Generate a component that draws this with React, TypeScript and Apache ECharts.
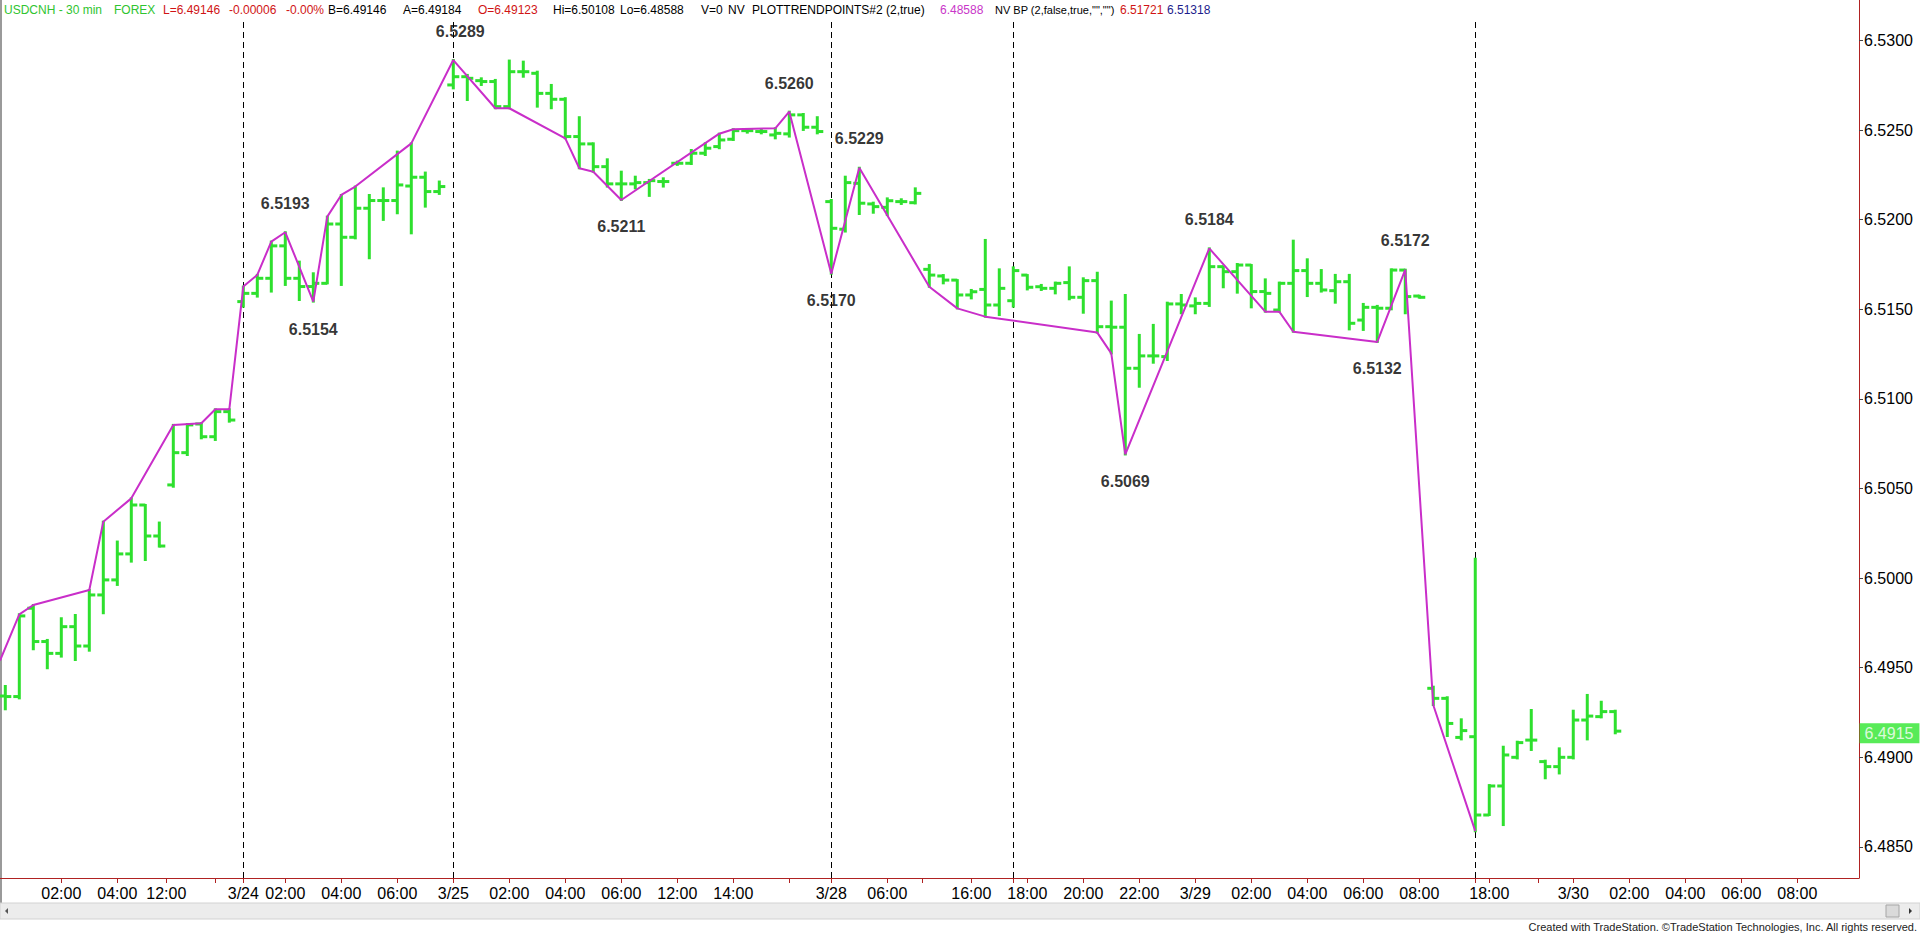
import React, { useEffect, useRef } from 'react';
import * as echarts from 'echarts';

// ---- OHLC bars (30 min), index = bar slot on the chart ----
const openP = [
  6.49342, 6.49339, 6.49832, 6.49646, 6.4958, 6.49729, 6.49621, 6.49906, 6.4999, 6.50135,
  6.50408, 6.50235, 6.5052, 6.507, 6.5086, 6.50789, 6.50929, 6.51543, 6.51589, 6.51673,
  6.51854, 6.51673, 6.51627, 6.51645, 6.51976, 6.51902, 6.52064, 6.52107, 6.52107, 6.52188,
  6.52237, 6.52157, 6.52752, 6.52798, 6.52776, 6.52771, 6.52631, 6.52826, 6.52817, 6.52705,
  6.52672, 6.52464, 6.52423, 6.52296, 6.522, 6.522, 6.52207, 6.52213, 6.52315, 6.52315,
  6.52371, 6.52408, 6.52449, 6.52497, 6.52492, 6.52473, 6.52479, 6.52585, 6.52516, 6.52101,
  6.51947, 6.52203, 6.52088, 6.52069, 6.52101, 6.52095, 6.51723, 6.51686, 6.51663, 6.5158,
  6.51611, 6.51524, 6.51548, 6.51691, 6.51626, 6.51617, 6.51649, 6.51567, 6.5166, 6.51403,
  6.514, 6.51171, 6.5124, 6.51236, 6.5153, 6.51519, 6.51533, 6.51738, 6.5171, 6.51747,
  6.51599, 6.51496, 6.51645, 6.51716, 6.51645, 6.51604, 6.51654, 6.5144, 6.51511, 6.51506,
  6.51719, 6.51574, 6.49385, 6.49329, 6.49111, 6.49115, 6.48678, 6.4884, 6.49, 6.49096,
  6.48976, 6.48948, 6.49, 6.49208, 6.49227, 6.49255,
];
const highP = [
  6.49398, 6.49798, 6.4985, 6.49655, 6.49776, 6.49794, 6.49934, 6.50315, 6.50204, 6.50445,
  6.50408, 6.5031, 6.50855, 6.5086, 6.50864, 6.50942, 6.50942, 6.51627, 6.51692, 6.51878,
  6.5193, 6.51766, 6.51701, 6.52017, 6.52138, 6.52185, 6.52138, 6.52175, 6.5238, 6.52426,
  6.52263, 6.52213, 6.52891, 6.52808, 6.52789, 6.5278, 6.52888, 6.52882, 6.52826, 6.52752,
  6.52678, 6.52572, 6.52426, 6.52337, 6.52268, 6.5224, 6.52222, 6.52231, 6.52324, 6.52389,
  6.52426, 6.5248, 6.52505, 6.52505, 6.52501, 6.5251, 6.52603, 6.5259, 6.52572, 6.5211,
  6.5224, 6.5229, 6.52095, 6.52119, 6.52114, 6.52175, 6.51747, 6.51691, 6.51663, 6.51608,
  6.51887, 6.51723, 6.51734, 6.51691, 6.51636, 6.51649, 6.51734, 6.51673, 6.51704, 6.51543,
  6.5158, 6.51357, 6.51413, 6.51537, 6.5158, 6.51561, 6.5184, 6.51738, 6.51753, 6.51747,
  6.51667, 6.51649, 6.51883, 6.51779, 6.51719, 6.51692, 6.51692, 6.5153, 6.51519, 6.51723,
  6.51721, 6.51576, 6.49394, 6.49335, 6.49212, 6.50108, 6.48845, 6.49059, 6.49087, 6.49264,
  6.48981, 6.4905, 6.4926, 6.49348, 6.4931, 6.4926,
];
const lowP = [
  6.49268, 6.49329, 6.49603, 6.49497, 6.49562, 6.49543, 6.49595, 6.49804, 6.49962, 6.50092,
  6.50101, 6.50176, 6.5051, 6.50687, 6.5078, 6.50771, 6.50873, 6.51515, 6.51571, 6.51599,
  6.51636, 6.51552, 6.51543, 6.51645, 6.51636, 6.51896, 6.51785, 6.51999, 6.52036, 6.51924,
  6.52073, 6.52144, 6.52733, 6.52668, 6.52752, 6.52622, 6.52622, 6.52798, 6.52631, 6.52622,
  6.52454, 6.52287, 6.52268, 6.52185, 6.5211, 6.52175, 6.52133, 6.52185, 6.52306, 6.52311,
  6.52361, 6.52399, 6.52445, 6.52486, 6.52482, 6.52454, 6.52464, 6.52501, 6.52482, 6.51699,
  6.51934, 6.52032, 6.52039, 6.52026, 6.52088, 6.52091, 6.51626, 6.51645, 6.51505, 6.51561,
  6.51459, 6.51468, 6.51515, 6.51611, 6.51608, 6.51589, 6.51556, 6.51481, 6.5137, 6.51254,
  6.5069, 6.51068, 6.51202, 6.51217, 6.51478, 6.51478, 6.51519, 6.51623, 6.51593, 6.51511,
  6.51487, 6.51487, 6.51375, 6.51574, 6.51599, 6.51537, 6.51388, 6.51385, 6.51318, 6.515,
  6.51478, 6.51565, 6.49292, 6.49119, 6.491, 6.48588, 6.48678, 6.48622, 6.48994, 6.49041,
  6.48883, 6.4891, 6.48994, 6.491, 6.49223, 6.49134,
];
const closeP = [
  6.49339, 6.49789, 6.49646, 6.4958, 6.49729, 6.49621, 6.49906, 6.4999, 6.50135, 6.50408,
  6.50235, 6.50179, 6.507, 6.50855, 6.50789, 6.50929, 6.50882, 6.51589, 6.51673, 6.51854,
  6.51673, 6.51627, 6.51645, 6.51976, 6.51902, 6.52064, 6.52107, 6.52107, 6.52194, 6.52237,
  6.52157, 6.52185, 6.52798, 6.52789, 6.52771, 6.52631, 6.52826, 6.52826, 6.52705, 6.52672,
  6.52464, 6.52423, 6.52296, 6.522, 6.522, 6.52207, 6.52218, 6.52213, 6.52315, 6.52371,
  6.52399, 6.52445, 6.52497, 6.52497, 6.52492, 6.52482, 6.52585, 6.52516, 6.52492, 6.51952,
  6.52207, 6.52092, 6.52073, 6.52106, 6.52101, 6.52147, 6.51691, 6.51663, 6.5158, 6.51598,
  6.51524, 6.51617, 6.51716, 6.51623, 6.51617, 6.51645, 6.51567, 6.5166, 6.51403, 6.514,
  6.51171, 6.5124, 6.5124, 6.5153, 6.51524, 6.51533, 6.51738, 6.5171, 6.51747, 6.51599,
  6.51589, 6.51645, 6.51716, 6.51645, 6.51608, 6.51654, 6.51422, 6.51511, 6.51506, 6.51719,
  6.51571, 6.51567, 6.49329, 6.49189, 6.49149, 6.48678, 6.4884, 6.49013, 6.49082, 6.49096,
  6.48948, 6.49, 6.49208, 6.4923, 6.49255, 6.49146,
];

// ---- PlotTrendPoints zig-zag line ----
const trendIdx = [
  -0.38, 1, 2, 6, 7, 9, 12, 14, 15, 16, 17, 18, 19, 20, 22, 23, 24, 25, 29, 32, 35, 36, 40, 41, 42,
  44, 51, 52, 55, 56, 59, 61, 66, 68, 70, 78, 79, 80, 86, 90, 91, 92, 98, 100, 102, 105,
];
const trendPrice = [
  6.4954, 6.49798, 6.4985, 6.49934, 6.50315, 6.50445, 6.50855, 6.50864, 6.50942, 6.50942,
  6.51627, 6.51692, 6.51878, 6.5193, 6.51543, 6.52017, 6.52138, 6.52185, 6.52426, 6.52891,
  6.52622, 6.52622, 6.52454, 6.52287, 6.52268, 6.5211, 6.5248, 6.52505, 6.5251, 6.52603,
  6.51699, 6.5229, 6.51626, 6.51505, 6.51459, 6.5137, 6.51254, 6.5069, 6.5184, 6.51487,
  6.51487, 6.51375, 6.51318, 6.51721, 6.49292, 6.48588,
];

// ---- labelled swing points ----
const pivotIdx = [20, 22, 32, 44, 56, 59, 61, 80, 86, 98, 100];
const pivotPrice = [6.5193, 6.5154, 6.5289, 6.5211, 6.526, 6.517, 6.5229, 6.5069, 6.5184, 6.5132, 6.5172];
const pivotSide = ['H', 'L', 'H', 'L', 'H', 'L', 'H', 'L', 'H', 'L', 'H'];

// ---- axes ----
const xTickPos = [
  4, 8, 11.5, 15, 17, 20, 24, 28, 32, 36, 40, 44, 48, 52, 56, 59, 63, 65.5, 69, 72, 73, 77, 81, 85,
  89, 93, 97, 101, 105, 106, 109.5, 112, 116, 120, 124, 128,
];
const xTickText = [
  '02:00', '04:00', '12:00', '', '3/24', '02:00', '04:00', '06:00', '3/25', '02:00', '04:00',
  '06:00', '12:00', '14:00', '', '3/28', '06:00', '', '16:00', '', '18:00', '20:00', '22:00',
  '3/29', '02:00', '04:00', '06:00', '08:00', '', '18:00', '', '3/30', '02:00', '04:00', '06:00',
  '08:00',
];
const sessionIdx = [17, 32, 59, 72, 105];
const yTicks = [6.485, 6.49, 6.495, 6.5, 6.505, 6.51, 6.515, 6.52, 6.525, 6.53];

const X_MIN = -0.379;
const X_MAX = 132.41;
const Y_MIN = 6.483265;
const Y_MAX = 6.531256;

const FONT = '"Liberation Sans", Arial, Helvetica, sans-serif';
const BAR_GREEN = '#2ee02e';
const TREND = '#c92ec9';
const AXIS_RED = '#b02222';

const headerParts: { t: string; x: number; c: string; s?: number }[] = [
  { t: 'USDCNH - 30 min', x: 4, c: '#2fc42f' },
  { t: 'FOREX', x: 114, c: '#2fc42f' },
  { t: 'L=6.49146', x: 163, c: '#d01414' },
  { t: '-0.00006', x: 229, c: '#d01414' },
  { t: '-0.00%', x: 286, c: '#d01414' },
  { t: 'B=6.49146', x: 328, c: '#000' },
  { t: 'A=6.49184', x: 403, c: '#000' },
  { t: 'O=6.49123', x: 478, c: '#d01414' },
  { t: 'Hi=6.50108', x: 553, c: '#000' },
  { t: 'Lo=6.48588', x: 620, c: '#000' },
  { t: 'V=0', x: 701, c: '#000' },
  { t: 'NV', x: 728, c: '#000' },
  { t: 'PLOTTRENDPOINTS#2 (2,true)', x: 752, c: '#000' },
  { t: '6.48588', x: 940, c: '#c936c9' },
  { t: 'NV BP (2,false,true,"","")', x: 995, c: '#000', s: 11 },
  { t: '6.51721', x: 1120, c: '#d01414' },
  { t: '6.51318', x: 1167, c: '#1c1c8c' },
];

export default function App() {
  const ref = useRef<HTMLDivElement>(null);

  useEffect(() => {
    if (!ref.current) return;
    const chart = echarts.init(ref.current, undefined, { renderer: 'svg' });

    const barData = openP.map((o, i) => [i, o, highP[i], lowP[i], closeP[i]]);
    const trendData = trendIdx.map((x, i) => [x, trendPrice[i]]);
    const pivotData = pivotIdx.map((x, i) => ({
      value: [x, pivotPrice[i]],
      label: { offset: pivotSide[i] === 'H' ? [i === 2 ? 7 : 0, -29] : [0, 27] },
    }));
    const last = closeP.length - 1;

    const graphic: any[] = headerParts.map((p) => ({
      type: 'text',
      x: p.x,
      y: 10,
      silent: true,
      style: {
        text: p.t,
        fill: p.c,
        font: `${p.s || 12}px ${FONT}`,
        textVerticalAlign: 'middle',
        verticalAlign: 'middle',
      },
    }));
    graphic.push(
      { type: 'line', shape: { x1: 1859.5, y1: 0, x2: 1859.5, y2: 18 }, style: { stroke: AXIS_RED, lineWidth: 1 }, silent: true },
      { type: 'line', shape: { x1: 1, y1: 0, x2: 1, y2: 919 }, style: { stroke: '#9a9a9a', lineWidth: 2 }, silent: true },
      { type: 'rect', shape: { x: 0, y: 903, width: 1920, height: 16 }, style: { fill: '#ececec', stroke: '#d2d2d2', lineWidth: 1 }, silent: true },
      { type: 'polygon', shape: { points: [[8, 908], [8, 914], [5, 911]] }, style: { fill: '#555' }, silent: true },
      { type: 'rect', shape: { x: 1886, y: 905, width: 13, height: 12 }, style: { fill: '#dadada', stroke: '#a6a6a6', lineWidth: 1 }, silent: true },
      { type: 'polygon', shape: { points: [[1909, 908], [1909, 914], [1912, 911]] }, style: { fill: '#333' }, silent: true },
      {
        type: 'text',
        x: 1917,
        y: 927,
        silent: true,
        style: {
          text: 'Created with TradeStation. \u00A9TradeStation Technologies, Inc. All rights reserved.',
          fill: '#222',
          font: `11px ${FONT}`,
          align: 'right',
          textAlign: 'right',
          verticalAlign: 'middle',
          textVerticalAlign: 'middle',
        },
      }
    );

    const option: any = {
      animation: false,
      backgroundColor: '#ffffff',
      grid: { left: 0, right: 61, top: 18, bottom: 56 },
      xAxis: {
        type: 'value',
        min: X_MIN,
        max: X_MAX,
        splitLine: { show: false },
        axisLine: { show: true, onZero: false, lineStyle: { color: AXIS_RED, width: 1 } },
        axisTick: {
          show: true,
          length: 5,
          customValues: xTickPos,
          lineStyle: { color: AXIS_RED, width: 1 },
        },
        axisLabel: {
          show: true,
          customValues: xTickPos,
          margin: 7,
          color: '#000',
          fontSize: 16,
          fontFamily: FONT,
          formatter: (v: number) => {
            const k = xTickPos.findIndex((p) => Math.abs(p - v) < 1e-6);
            return k >= 0 ? xTickText[k] : '';
          },
        },
      },
      yAxis: {
        type: 'value',
        position: 'right',
        min: Y_MIN,
        max: Y_MAX,
        scale: true,
        splitLine: { show: false },
        axisLine: { show: true, onZero: false, lineStyle: { color: AXIS_RED, width: 1 } },
        axisTick: {
          show: true,
          length: 4,
          customValues: yTicks,
          lineStyle: { color: '#444', width: 1 },
        },
        axisLabel: {
          show: true,
          customValues: yTicks,
          margin: 5,
          color: '#000',
          fontSize: 16,
          fontFamily: FONT,
          formatter: (v: number) => v.toFixed(4),
        },
      },
      series: [
        {
          type: 'line',
          name: 'sessions',
          data: [],
          symbol: 'none',
          z: 1,
          markLine: {
            silent: true,
            symbol: 'none',
            animation: false,
            z: 1,
            zlevel: 0,
            label: { show: false },
            lineStyle: { color: '#000', width: 1, type: [6, 4] },
            data: sessionIdx.map((v) => ({ xAxis: v })),
          },
        },
        {
          type: 'custom',
          name: 'USDCNH',
          data: barData,
          encode: { x: 0, y: [1, 2, 3, 4] },
          clip: true,
          renderItem: (params: any, api: any) => {
            const x = api.value(0);
            const pO = api.coord([x, api.value(1)]);
            const pH = api.coord([x, api.value(2)]);
            const pL = api.coord([x, api.value(3)]);
            const pC = api.coord([x, api.value(4)]);
            const st = { stroke: BAR_GREEN, lineWidth: 3 };
            return {
              type: 'group',
              children: [
                { type: 'line', shape: { x1: pH[0], y1: pH[1] - 1, x2: pL[0], y2: pL[1] + 1 }, style: st },
                { type: 'line', shape: { x1: pO[0] - 6, y1: pO[1], x2: pO[0], y2: pO[1] }, style: st },
                { type: 'line', shape: { x1: pC[0], y1: pC[1], x2: pC[0] + 6, y2: pC[1] }, style: st },
              ],
            };
          },
          z: 6,
        },
        {
          type: 'line',
          name: 'PlotTrendPoints',
          data: trendData,
          showSymbol: false,
          symbol: 'none',
          clip: true,
          lineStyle: { color: TREND, width: 2 },
          z: 7,
        },
        {
          type: 'scatter',
          name: 'pivots',
          data: pivotData,
          symbolSize: 1,
          itemStyle: { color: 'rgba(0,0,0,0)' },
          label: {
            show: true,
            position: 'inside',
            formatter: (p: any) => p.value[1].toFixed(4),
            color: '#000',
            fontSize: 16,
            fontWeight: 'bold',
            fontFamily: FONT,
          },
          z: 8,
        },
        {
          type: 'scatter',
          name: 'last',
          data: [[X_MAX, closeP[last]]],
          symbolSize: 1,
          clip: false,
          itemStyle: { color: 'rgba(0,0,0,0)' },
          label: {
            show: true,
            position: 'right',
            distance: 0,
            offset: [0, 2],
            formatter: (p: any) => p.value[1].toFixed(4),
            color: '#ffffff',
            backgroundColor: '#2ee62e',
            padding: [2, 6, 2, 5],
            fontSize: 16,
            fontFamily: FONT,
          },
          z: 9,
        },
      ],
      graphic,
    };

    chart.setOption(option);
    return () => {
      chart.dispose();
    };
  }, []);

  return (
    <div
      ref={ref}
      style={{ position: 'fixed', left: 0, top: 0, width: 1920, height: 934, background: '#ffffff' }}
    />
  );
}
